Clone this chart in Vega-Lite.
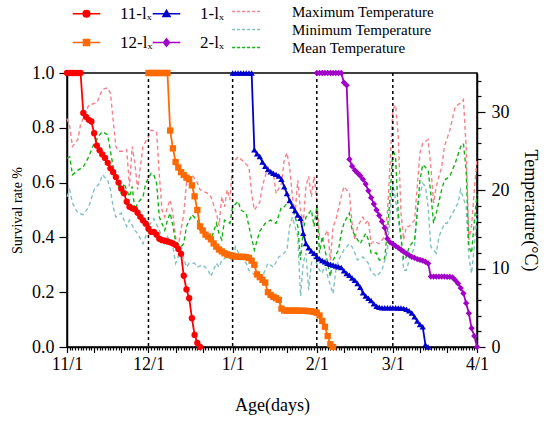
{
  "$schema": "https://vega.github.io/schema/vega-lite/v6.json",
  "autosize": {"type": "none"},
  "padding": {"left": 67, "top": 73, "right": 73, "bottom": 75},
  "width": 410,
  "height": 274,
  "config": {
    "font": "Liberation Serif",
    "view": {"stroke": "black", "strokeWidth": 1.5},
    "axis": {
      "grid": false,
      "domainColor": "black",
      "domainWidth": 1.5,
      "tickColor": "black",
      "tickWidth": 1.2,
      "labelColor": "black",
      "titleColor": "black",
      "labelFont": "Liberation Serif",
      "titleFont": "Liberation Serif",
      "labelFontSize": 18,
      "titleFontSize": 18,
      "titleFontWeight": "normal"
    },
    "legend": {
      "labelFont": "Liberation Serif",
      "labelFontSize": 16,
      "labelColor": "black",
      "padding": 0
    }
  },
  "datasets": {
    "months": [{"d": 30}, {"d": 61}, {"d": 92}, {"d": 120}],
    "surv": [
      {"g": "11-lₓ", "d": 0, "s": 1}, {"g": "11-lₓ", "d": 1, "s": 1}, {"g": "11-lₓ", "d": 2, "s": 1}, {"g": "11-lₓ", "d": 3, "s": 1},
      {"g": "11-lₓ", "d": 4, "s": 1}, {"g": "11-lₓ", "d": 5, "s": 1}, {"g": "11-lₓ", "d": 6, "s": 0.854}, {"g": "11-lₓ", "d": 7, "s": 0.84},
      {"g": "11-lₓ", "d": 8, "s": 0.829}, {"g": "11-lₓ", "d": 9, "s": 0.823}, {"g": "11-lₓ", "d": 10, "s": 0.78}, {"g": "11-lₓ", "d": 11, "s": 0.735},
      {"g": "11-lₓ", "d": 12, "s": 0.718}, {"g": "11-lₓ", "d": 13, "s": 0.703}, {"g": "11-lₓ", "d": 14, "s": 0.69}, {"g": "11-lₓ", "d": 15, "s": 0.672},
      {"g": "11-lₓ", "d": 16, "s": 0.652}, {"g": "11-lₓ", "d": 17, "s": 0.638}, {"g": "11-lₓ", "d": 18, "s": 0.62}, {"g": "11-lₓ", "d": 19, "s": 0.6},
      {"g": "11-lₓ", "d": 20, "s": 0.578}, {"g": "11-lₓ", "d": 21, "s": 0.561}, {"g": "11-lₓ", "d": 22, "s": 0.53}, {"g": "11-lₓ", "d": 23, "s": 0.512},
      {"g": "11-lₓ", "d": 24, "s": 0.506}, {"g": "11-lₓ", "d": 25, "s": 0.503}, {"g": "11-lₓ", "d": 26, "s": 0.49}, {"g": "11-lₓ", "d": 27, "s": 0.475},
      {"g": "11-lₓ", "d": 28, "s": 0.462}, {"g": "11-lₓ", "d": 29, "s": 0.45}, {"g": "11-lₓ", "d": 30, "s": 0.432}, {"g": "11-lₓ", "d": 31, "s": 0.42},
      {"g": "11-lₓ", "d": 32, "s": 0.42}, {"g": "11-lₓ", "d": 33, "s": 0.41}, {"g": "11-lₓ", "d": 34, "s": 0.395}, {"g": "11-lₓ", "d": 35, "s": 0.39},
      {"g": "11-lₓ", "d": 36, "s": 0.388}, {"g": "11-lₓ", "d": 37, "s": 0.385}, {"g": "11-lₓ", "d": 38, "s": 0.382}, {"g": "11-lₓ", "d": 39, "s": 0.378},
      {"g": "11-lₓ", "d": 40, "s": 0.372}, {"g": "11-lₓ", "d": 41, "s": 0.358}, {"g": "11-lₓ", "d": 42, "s": 0.34}, {"g": "11-lₓ", "d": 43, "s": 0.26},
      {"g": "11-lₓ", "d": 44, "s": 0.21}, {"g": "11-lₓ", "d": 45, "s": 0.178}, {"g": "11-lₓ", "d": 46, "s": 0.105}, {"g": "11-lₓ", "d": 47, "s": 0.044},
      {"g": "11-lₓ", "d": 48, "s": 0.015}, {"g": "11-lₓ", "d": 49, "s": 0},

      {"g": "12-lₓ", "d": 30, "s": 1}, {"g": "12-lₓ", "d": 31, "s": 1}, {"g": "12-lₓ", "d": 32, "s": 1}, {"g": "12-lₓ", "d": 33, "s": 1},
      {"g": "12-lₓ", "d": 34, "s": 1}, {"g": "12-lₓ", "d": 35, "s": 1}, {"g": "12-lₓ", "d": 36, "s": 1}, {"g": "12-lₓ", "d": 37, "s": 1},
      {"g": "12-lₓ", "d": 38, "s": 0.79}, {"g": "12-lₓ", "d": 39, "s": 0.725}, {"g": "12-lₓ", "d": 40, "s": 0.675}, {"g": "12-lₓ", "d": 41, "s": 0.655},
      {"g": "12-lₓ", "d": 42, "s": 0.638}, {"g": "12-lₓ", "d": 43, "s": 0.628}, {"g": "12-lₓ", "d": 44, "s": 0.618}, {"g": "12-lₓ", "d": 45, "s": 0.612},
      {"g": "12-lₓ", "d": 46, "s": 0.59}, {"g": "12-lₓ", "d": 47, "s": 0.55}, {"g": "12-lₓ", "d": 48, "s": 0.5}, {"g": "12-lₓ", "d": 49, "s": 0.44},
      {"g": "12-lₓ", "d": 50, "s": 0.425}, {"g": "12-lₓ", "d": 51, "s": 0.41}, {"g": "12-lₓ", "d": 52, "s": 0.403}, {"g": "12-lₓ", "d": 53, "s": 0.393},
      {"g": "12-lₓ", "d": 54, "s": 0.378}, {"g": "12-lₓ", "d": 55, "s": 0.366}, {"g": "12-lₓ", "d": 56, "s": 0.356}, {"g": "12-lₓ", "d": 57, "s": 0.349},
      {"g": "12-lₓ", "d": 58, "s": 0.342}, {"g": "12-lₓ", "d": 59, "s": 0.338}, {"g": "12-lₓ", "d": 60, "s": 0.335}, {"g": "12-lₓ", "d": 61, "s": 0.333},
      {"g": "12-lₓ", "d": 62, "s": 0.33}, {"g": "12-lₓ", "d": 63, "s": 0.329}, {"g": "12-lₓ", "d": 64, "s": 0.329}, {"g": "12-lₓ", "d": 65, "s": 0.329},
      {"g": "12-lₓ", "d": 66, "s": 0.328}, {"g": "12-lₓ", "d": 67, "s": 0.325}, {"g": "12-lₓ", "d": 68, "s": 0.315}, {"g": "12-lₓ", "d": 69, "s": 0.3},
      {"g": "12-lₓ", "d": 70, "s": 0.265}, {"g": "12-lₓ", "d": 71, "s": 0.255}, {"g": "12-lₓ", "d": 72, "s": 0.245}, {"g": "12-lₓ", "d": 73, "s": 0.235},
      {"g": "12-lₓ", "d": 74, "s": 0.2}, {"g": "12-lₓ", "d": 75, "s": 0.19}, {"g": "12-lₓ", "d": 76, "s": 0.183}, {"g": "12-lₓ", "d": 77, "s": 0.178},
      {"g": "12-lₓ", "d": 78, "s": 0.172}, {"g": "12-lₓ", "d": 79, "s": 0.14}, {"g": "12-lₓ", "d": 80, "s": 0.133}, {"g": "12-lₓ", "d": 81, "s": 0.133},
      {"g": "12-lₓ", "d": 82, "s": 0.133}, {"g": "12-lₓ", "d": 83, "s": 0.133}, {"g": "12-lₓ", "d": 84, "s": 0.133}, {"g": "12-lₓ", "d": 85, "s": 0.133},
      {"g": "12-lₓ", "d": 86, "s": 0.132}, {"g": "12-lₓ", "d": 87, "s": 0.132}, {"g": "12-lₓ", "d": 88, "s": 0.132}, {"g": "12-lₓ", "d": 89, "s": 0.131},
      {"g": "12-lₓ", "d": 90, "s": 0.13}, {"g": "12-lₓ", "d": 91, "s": 0.128}, {"g": "12-lₓ", "d": 92, "s": 0.125}, {"g": "12-lₓ", "d": 93, "s": 0.115},
      {"g": "12-lₓ", "d": 94, "s": 0.095}, {"g": "12-lₓ", "d": 95, "s": 0.074}, {"g": "12-lₓ", "d": 96, "s": 0.04}, {"g": "12-lₓ", "d": 97, "s": 0.01},
      {"g": "12-lₓ", "d": 98, "s": 0},

      {"g": "1-lₓ", "d": 61, "s": 1}, {"g": "1-lₓ", "d": 62, "s": 1}, {"g": "1-lₓ", "d": 63, "s": 1}, {"g": "1-lₓ", "d": 64, "s": 1},
      {"g": "1-lₓ", "d": 65, "s": 1}, {"g": "1-lₓ", "d": 66, "s": 1}, {"g": "1-lₓ", "d": 67, "s": 1}, {"g": "1-lₓ", "d": 68, "s": 1},
      {"g": "1-lₓ", "d": 69, "s": 0.72}, {"g": "1-lₓ", "d": 70, "s": 0.705}, {"g": "1-lₓ", "d": 71, "s": 0.695}, {"g": "1-lₓ", "d": 72, "s": 0.675},
      {"g": "1-lₓ", "d": 73, "s": 0.66}, {"g": "1-lₓ", "d": 74, "s": 0.648}, {"g": "1-lₓ", "d": 75, "s": 0.64}, {"g": "1-lₓ", "d": 76, "s": 0.634},
      {"g": "1-lₓ", "d": 77, "s": 0.63}, {"g": "1-lₓ", "d": 78, "s": 0.624}, {"g": "1-lₓ", "d": 79, "s": 0.612}, {"g": "1-lₓ", "d": 80, "s": 0.585},
      {"g": "1-lₓ", "d": 81, "s": 0.56}, {"g": "1-lₓ", "d": 82, "s": 0.535}, {"g": "1-lₓ", "d": 83, "s": 0.515}, {"g": "1-lₓ", "d": 84, "s": 0.498},
      {"g": "1-lₓ", "d": 85, "s": 0.482}, {"g": "1-lₓ", "d": 86, "s": 0.47}, {"g": "1-lₓ", "d": 87, "s": 0.415}, {"g": "1-lₓ", "d": 88, "s": 0.378},
      {"g": "1-lₓ", "d": 89, "s": 0.362}, {"g": "1-lₓ", "d": 90, "s": 0.35}, {"g": "1-lₓ", "d": 91, "s": 0.342}, {"g": "1-lₓ", "d": 92, "s": 0.33},
      {"g": "1-lₓ", "d": 93, "s": 0.322}, {"g": "1-lₓ", "d": 94, "s": 0.316}, {"g": "1-lₓ", "d": 95, "s": 0.311}, {"g": "1-lₓ", "d": 96, "s": 0.306},
      {"g": "1-lₓ", "d": 97, "s": 0.302}, {"g": "1-lₓ", "d": 98, "s": 0.299}, {"g": "1-lₓ", "d": 99, "s": 0.296}, {"g": "1-lₓ", "d": 100, "s": 0.293},
      {"g": "1-lₓ", "d": 101, "s": 0.29}, {"g": "1-lₓ", "d": 102, "s": 0.278}, {"g": "1-lₓ", "d": 103, "s": 0.268}, {"g": "1-lₓ", "d": 104, "s": 0.262},
      {"g": "1-lₓ", "d": 105, "s": 0.252}, {"g": "1-lₓ", "d": 106, "s": 0.244}, {"g": "1-lₓ", "d": 107, "s": 0.232}, {"g": "1-lₓ", "d": 108, "s": 0.218},
      {"g": "1-lₓ", "d": 109, "s": 0.198}, {"g": "1-lₓ", "d": 110, "s": 0.186}, {"g": "1-lₓ", "d": 111, "s": 0.178}, {"g": "1-lₓ", "d": 112, "s": 0.17},
      {"g": "1-lₓ", "d": 113, "s": 0.158}, {"g": "1-lₓ", "d": 114, "s": 0.149}, {"g": "1-lₓ", "d": 115, "s": 0.145}, {"g": "1-lₓ", "d": 116, "s": 0.143},
      {"g": "1-lₓ", "d": 117, "s": 0.143}, {"g": "1-lₓ", "d": 118, "s": 0.143}, {"g": "1-lₓ", "d": 119, "s": 0.143}, {"g": "1-lₓ", "d": 120, "s": 0.143},
      {"g": "1-lₓ", "d": 121, "s": 0.143}, {"g": "1-lₓ", "d": 122, "s": 0.142}, {"g": "1-lₓ", "d": 123, "s": 0.142}, {"g": "1-lₓ", "d": 124, "s": 0.141},
      {"g": "1-lₓ", "d": 125, "s": 0.138}, {"g": "1-lₓ", "d": 126, "s": 0.132}, {"g": "1-lₓ", "d": 127, "s": 0.124}, {"g": "1-lₓ", "d": 128, "s": 0.11},
      {"g": "1-lₓ", "d": 129, "s": 0.095}, {"g": "1-lₓ", "d": 130, "s": 0.082}, {"g": "1-lₓ", "d": 131, "s": 0.074}, {"g": "1-lₓ", "d": 132, "s": 0.008},
      {"g": "1-lₓ", "d": 133, "s": 0},

      {"g": "2-lₓ", "d": 92, "s": 1}, {"g": "2-lₓ", "d": 93, "s": 1}, {"g": "2-lₓ", "d": 94, "s": 1}, {"g": "2-lₓ", "d": 95, "s": 1},
      {"g": "2-lₓ", "d": 96, "s": 1}, {"g": "2-lₓ", "d": 97, "s": 1}, {"g": "2-lₓ", "d": 98, "s": 1}, {"g": "2-lₓ", "d": 99, "s": 1},
      {"g": "2-lₓ", "d": 100, "s": 1}, {"g": "2-lₓ", "d": 101, "s": 1}, {"g": "2-lₓ", "d": 102, "s": 0.965}, {"g": "2-lₓ", "d": 103, "s": 0.955},
      {"g": "2-lₓ", "d": 104, "s": 0.685}, {"g": "2-lₓ", "d": 105, "s": 0.66}, {"g": "2-lₓ", "d": 106, "s": 0.645}, {"g": "2-lₓ", "d": 107, "s": 0.635},
      {"g": "2-lₓ", "d": 108, "s": 0.625}, {"g": "2-lₓ", "d": 109, "s": 0.612}, {"g": "2-lₓ", "d": 110, "s": 0.595}, {"g": "2-lₓ", "d": 111, "s": 0.57},
      {"g": "2-lₓ", "d": 112, "s": 0.545}, {"g": "2-lₓ", "d": 113, "s": 0.522}, {"g": "2-lₓ", "d": 114, "s": 0.5}, {"g": "2-lₓ", "d": 115, "s": 0.48},
      {"g": "2-lₓ", "d": 116, "s": 0.458}, {"g": "2-lₓ", "d": 117, "s": 0.435}, {"g": "2-lₓ", "d": 118, "s": 0.395}, {"g": "2-lₓ", "d": 119, "s": 0.382},
      {"g": "2-lₓ", "d": 120, "s": 0.376}, {"g": "2-lₓ", "d": 121, "s": 0.369}, {"g": "2-lₓ", "d": 122, "s": 0.362}, {"g": "2-lₓ", "d": 123, "s": 0.355},
      {"g": "2-lₓ", "d": 124, "s": 0.348}, {"g": "2-lₓ", "d": 125, "s": 0.341}, {"g": "2-lₓ", "d": 126, "s": 0.335}, {"g": "2-lₓ", "d": 127, "s": 0.329},
      {"g": "2-lₓ", "d": 128, "s": 0.325}, {"g": "2-lₓ", "d": 129, "s": 0.321}, {"g": "2-lₓ", "d": 130, "s": 0.318}, {"g": "2-lₓ", "d": 131, "s": 0.315},
      {"g": "2-lₓ", "d": 132, "s": 0.311}, {"g": "2-lₓ", "d": 133, "s": 0.305}, {"g": "2-lₓ", "d": 134, "s": 0.257}, {"g": "2-lₓ", "d": 135, "s": 0.257},
      {"g": "2-lₓ", "d": 136, "s": 0.257}, {"g": "2-lₓ", "d": 137, "s": 0.257}, {"g": "2-lₓ", "d": 138, "s": 0.257}, {"g": "2-lₓ", "d": 139, "s": 0.257},
      {"g": "2-lₓ", "d": 140, "s": 0.256}, {"g": "2-lₓ", "d": 141, "s": 0.256}, {"g": "2-lₓ", "d": 142, "s": 0.254}, {"g": "2-lₓ", "d": 143, "s": 0.244},
      {"g": "2-lₓ", "d": 144, "s": 0.232}, {"g": "2-lₓ", "d": 145, "s": 0.215}, {"g": "2-lₓ", "d": 146, "s": 0.196}, {"g": "2-lₓ", "d": 147, "s": 0.16},
      {"g": "2-lₓ", "d": 148, "s": 0.123}, {"g": "2-lₓ", "d": 149, "s": 0.068}, {"g": "2-lₓ", "d": 150, "s": 0.04}, {"g": "2-lₓ", "d": 151, "s": 0}
    ],
    "temp": [
      {"k": "Maximum Temperature", "d": 0, "t": 29.2}, {"k": "Maximum Temperature", "d": 1, "t": 28.2}, {"k": "Maximum Temperature", "d": 2, "t": 25.6},
      {"k": "Maximum Temperature", "d": 4, "t": 26.5}, {"k": "Maximum Temperature", "d": 5, "t": 28.4}, {"k": "Maximum Temperature", "d": 8, "t": 30.9},
      {"k": "Maximum Temperature", "d": 11, "t": 31.2}, {"k": "Maximum Temperature", "d": 13, "t": 32.9}, {"k": "Maximum Temperature", "d": 15, "t": 33.1},
      {"k": "Maximum Temperature", "d": 16, "t": 32.4}, {"k": "Maximum Temperature", "d": 17, "t": 29}, {"k": "Maximum Temperature", "d": 18, "t": 25.6},
      {"k": "Maximum Temperature", "d": 19, "t": 25}, {"k": "Maximum Temperature", "d": 21, "t": 25}, {"k": "Maximum Temperature", "d": 22, "t": 25.2},
      {"k": "Maximum Temperature", "d": 23, "t": 20.5}, {"k": "Maximum Temperature", "d": 24, "t": 25.6}, {"k": "Maximum Temperature", "d": 25, "t": 23.5},
      {"k": "Maximum Temperature", "d": 26, "t": 20.1}, {"k": "Maximum Temperature", "d": 27, "t": 23}, {"k": "Maximum Temperature", "d": 28, "t": 25.6},
      {"k": "Maximum Temperature", "d": 30, "t": 26.9}, {"k": "Maximum Temperature", "d": 31, "t": 27.7}, {"k": "Maximum Temperature", "d": 33, "t": 27.5},
      {"k": "Maximum Temperature", "d": 34, "t": 22}, {"k": "Maximum Temperature", "d": 35, "t": 17.5}, {"k": "Maximum Temperature", "d": 36, "t": 16.6},
      {"k": "Maximum Temperature", "d": 37, "t": 17.9}, {"k": "Maximum Temperature", "d": 38, "t": 18.8}, {"k": "Maximum Temperature", "d": 39, "t": 17},
      {"k": "Maximum Temperature", "d": 40, "t": 14}, {"k": "Maximum Temperature", "d": 41, "t": 13}, {"k": "Maximum Temperature", "d": 43, "t": 17},
      {"k": "Maximum Temperature", "d": 44, "t": 21}, {"k": "Maximum Temperature", "d": 46, "t": 22}, {"k": "Maximum Temperature", "d": 48, "t": 21},
      {"k": "Maximum Temperature", "d": 49, "t": 20.1}, {"k": "Maximum Temperature", "d": 52, "t": 19.6}, {"k": "Maximum Temperature", "d": 53, "t": 19.2},
      {"k": "Maximum Temperature", "d": 55, "t": 17.1}, {"k": "Maximum Temperature", "d": 56, "t": 15.5}, {"k": "Maximum Temperature", "d": 57, "t": 19.2},
      {"k": "Maximum Temperature", "d": 58, "t": 17.9}, {"k": "Maximum Temperature", "d": 59, "t": 20.1}, {"k": "Maximum Temperature", "d": 60, "t": 18.8},
      {"k": "Maximum Temperature", "d": 61, "t": 23.5}, {"k": "Maximum Temperature", "d": 63, "t": 24.3}, {"k": "Maximum Temperature", "d": 65, "t": 23.7},
      {"k": "Maximum Temperature", "d": 67, "t": 23}, {"k": "Maximum Temperature", "d": 68, "t": 19.6}, {"k": "Maximum Temperature", "d": 69, "t": 17.5},
      {"k": "Maximum Temperature", "d": 71, "t": 18.5}, {"k": "Maximum Temperature", "d": 72, "t": 20.6}, {"k": "Maximum Temperature", "d": 74, "t": 23},
      {"k": "Maximum Temperature", "d": 76, "t": 22.2}, {"k": "Maximum Temperature", "d": 77, "t": 19.6}, {"k": "Maximum Temperature", "d": 79, "t": 20.9},
      {"k": "Maximum Temperature", "d": 80, "t": 23.9}, {"k": "Maximum Temperature", "d": 81, "t": 24.8}, {"k": "Maximum Temperature", "d": 82, "t": 23},
      {"k": "Maximum Temperature", "d": 83, "t": 19.2}, {"k": "Maximum Temperature", "d": 84, "t": 17.1}, {"k": "Maximum Temperature", "d": 85, "t": 21.3},
      {"k": "Maximum Temperature", "d": 86, "t": 17.5}, {"k": "Maximum Temperature", "d": 87, "t": 15.8}, {"k": "Maximum Temperature", "d": 88, "t": 20.5},
      {"k": "Maximum Temperature", "d": 89, "t": 21.8}, {"k": "Maximum Temperature", "d": 90, "t": 19.2}, {"k": "Maximum Temperature", "d": 91, "t": 21.8},
      {"k": "Maximum Temperature", "d": 92, "t": 18.8}, {"k": "Maximum Temperature", "d": 93, "t": 14.1}, {"k": "Maximum Temperature", "d": 94, "t": 13.7},
      {"k": "Maximum Temperature", "d": 96, "t": 14.9}, {"k": "Maximum Temperature", "d": 97, "t": 11.1}, {"k": "Maximum Temperature", "d": 98, "t": 15.4},
      {"k": "Maximum Temperature", "d": 99, "t": 16.2}, {"k": "Maximum Temperature", "d": 101, "t": 19.2}, {"k": "Maximum Temperature", "d": 102, "t": 20.5},
      {"k": "Maximum Temperature", "d": 104, "t": 19.6}, {"k": "Maximum Temperature", "d": 105, "t": 15.8}, {"k": "Maximum Temperature", "d": 106, "t": 13.7},
      {"k": "Maximum Temperature", "d": 107, "t": 15.4}, {"k": "Maximum Temperature", "d": 109, "t": 16.6}, {"k": "Maximum Temperature", "d": 110, "t": 15.8},
      {"k": "Maximum Temperature", "d": 111, "t": 16.2}, {"k": "Maximum Temperature", "d": 112, "t": 13.2}, {"k": "Maximum Temperature", "d": 113, "t": 13.5},
      {"k": "Maximum Temperature", "d": 115, "t": 13.2}, {"k": "Maximum Temperature", "d": 117, "t": 14.1}, {"k": "Maximum Temperature", "d": 118, "t": 17.1},
      {"k": "Maximum Temperature", "d": 119, "t": 23.5}, {"k": "Maximum Temperature", "d": 120, "t": 30.3}, {"k": "Maximum Temperature", "d": 121, "t": 30.9},
      {"k": "Maximum Temperature", "d": 122, "t": 27}, {"k": "Maximum Temperature", "d": 123, "t": 17.1}, {"k": "Maximum Temperature", "d": 124, "t": 13.7},
      {"k": "Maximum Temperature", "d": 125, "t": 15.4}, {"k": "Maximum Temperature", "d": 126, "t": 15.4}, {"k": "Maximum Temperature", "d": 128, "t": 16.2},
      {"k": "Maximum Temperature", "d": 129, "t": 20.5}, {"k": "Maximum Temperature", "d": 130, "t": 24.8}, {"k": "Maximum Temperature", "d": 131, "t": 26},
      {"k": "Maximum Temperature", "d": 133, "t": 26.5}, {"k": "Maximum Temperature", "d": 134, "t": 23}, {"k": "Maximum Temperature", "d": 135, "t": 18.4},
      {"k": "Maximum Temperature", "d": 136, "t": 20.5}, {"k": "Maximum Temperature", "d": 138, "t": 23}, {"k": "Maximum Temperature", "d": 139, "t": 25.6},
      {"k": "Maximum Temperature", "d": 141, "t": 27.7}, {"k": "Maximum Temperature", "d": 143, "t": 30.7}, {"k": "Maximum Temperature", "d": 145, "t": 31.2},
      {"k": "Maximum Temperature", "d": 146, "t": 31.6}, {"k": "Maximum Temperature", "d": 147, "t": 25.6}, {"k": "Maximum Temperature", "d": 148, "t": 13.7},
      {"k": "Maximum Temperature", "d": 149, "t": 15.4}, {"k": "Maximum Temperature", "d": 150, "t": 20}, {"k": "Maximum Temperature", "d": 151, "t": 24},

      {"k": "Minimum Temperature", "d": 0, "t": 19.2}, {"k": "Minimum Temperature", "d": 1, "t": 20.1}, {"k": "Minimum Temperature", "d": 2, "t": 18.4},
      {"k": "Minimum Temperature", "d": 4, "t": 17.1}, {"k": "Minimum Temperature", "d": 6, "t": 16.9}, {"k": "Minimum Temperature", "d": 8, "t": 17.9},
      {"k": "Minimum Temperature", "d": 10, "t": 20.1}, {"k": "Minimum Temperature", "d": 12, "t": 20.9}, {"k": "Minimum Temperature", "d": 13, "t": 22},
      {"k": "Minimum Temperature", "d": 15, "t": 21.3}, {"k": "Minimum Temperature", "d": 16, "t": 20.1}, {"k": "Minimum Temperature", "d": 17, "t": 17.9},
      {"k": "Minimum Temperature", "d": 18, "t": 16.6}, {"k": "Minimum Temperature", "d": 20, "t": 17.1}, {"k": "Minimum Temperature", "d": 21, "t": 16.2},
      {"k": "Minimum Temperature", "d": 22, "t": 15.4}, {"k": "Minimum Temperature", "d": 23, "t": 16.2}, {"k": "Minimum Temperature", "d": 25, "t": 14.9},
      {"k": "Minimum Temperature", "d": 26, "t": 14.5}, {"k": "Minimum Temperature", "d": 28, "t": 13.2}, {"k": "Minimum Temperature", "d": 29, "t": 14.1},
      {"k": "Minimum Temperature", "d": 30, "t": 15.4}, {"k": "Minimum Temperature", "d": 32, "t": 16.4}, {"k": "Minimum Temperature", "d": 34, "t": 14.9},
      {"k": "Minimum Temperature", "d": 36, "t": 13.2}, {"k": "Minimum Temperature", "d": 37, "t": 14.1}, {"k": "Minimum Temperature", "d": 39, "t": 12.8},
      {"k": "Minimum Temperature", "d": 40, "t": 10.7}, {"k": "Minimum Temperature", "d": 42, "t": 12.4}, {"k": "Minimum Temperature", "d": 44, "t": 10.2},
      {"k": "Minimum Temperature", "d": 45, "t": 10.7}, {"k": "Minimum Temperature", "d": 47, "t": 10.7}, {"k": "Minimum Temperature", "d": 48, "t": 10.2},
      {"k": "Minimum Temperature", "d": 50, "t": 10.5}, {"k": "Minimum Temperature", "d": 52, "t": 9.8}, {"k": "Minimum Temperature", "d": 53, "t": 9},
      {"k": "Minimum Temperature", "d": 55, "t": 10.7}, {"k": "Minimum Temperature", "d": 56, "t": 10.2}, {"k": "Minimum Temperature", "d": 57, "t": 11.1},
      {"k": "Minimum Temperature", "d": 59, "t": 11.5}, {"k": "Minimum Temperature", "d": 61, "t": 11.1}, {"k": "Minimum Temperature", "d": 62, "t": 12.8},
      {"k": "Minimum Temperature", "d": 64, "t": 11.5}, {"k": "Minimum Temperature", "d": 66, "t": 10.7}, {"k": "Minimum Temperature", "d": 67, "t": 9.8},
      {"k": "Minimum Temperature", "d": 70, "t": 9}, {"k": "Minimum Temperature", "d": 72, "t": 9}, {"k": "Minimum Temperature", "d": 74, "t": 10.7},
      {"k": "Minimum Temperature", "d": 76, "t": 10.2}, {"k": "Minimum Temperature", "d": 78, "t": 11.5}, {"k": "Minimum Temperature", "d": 80, "t": 12},
      {"k": "Minimum Temperature", "d": 81, "t": 12.4}, {"k": "Minimum Temperature", "d": 82, "t": 15.4}, {"k": "Minimum Temperature", "d": 83, "t": 16.6},
      {"k": "Minimum Temperature", "d": 85, "t": 14.1}, {"k": "Minimum Temperature", "d": 86, "t": 6.5}, {"k": "Minimum Temperature", "d": 87, "t": 10.7},
      {"k": "Minimum Temperature", "d": 88, "t": 12}, {"k": "Minimum Temperature", "d": 89, "t": 7.3}, {"k": "Minimum Temperature", "d": 90, "t": 10.7},
      {"k": "Minimum Temperature", "d": 91, "t": 11.5}, {"k": "Minimum Temperature", "d": 93, "t": 9.8}, {"k": "Minimum Temperature", "d": 94, "t": 9.4},
      {"k": "Minimum Temperature", "d": 95, "t": 10.7}, {"k": "Minimum Temperature", "d": 96, "t": 9}, {"k": "Minimum Temperature", "d": 98, "t": 6.8},
      {"k": "Minimum Temperature", "d": 99, "t": 9.8}, {"k": "Minimum Temperature", "d": 100, "t": 11.1}, {"k": "Minimum Temperature", "d": 102, "t": 12.4},
      {"k": "Minimum Temperature", "d": 104, "t": 13.2}, {"k": "Minimum Temperature", "d": 105, "t": 12.8}, {"k": "Minimum Temperature", "d": 106, "t": 12},
      {"k": "Minimum Temperature", "d": 107, "t": 11.1}, {"k": "Minimum Temperature", "d": 109, "t": 11.5}, {"k": "Minimum Temperature", "d": 111, "t": 10.7},
      {"k": "Minimum Temperature", "d": 112, "t": 9.6}, {"k": "Minimum Temperature", "d": 114, "t": 9}, {"k": "Minimum Temperature", "d": 116, "t": 9.8},
      {"k": "Minimum Temperature", "d": 118, "t": 12.3}, {"k": "Minimum Temperature", "d": 119, "t": 17.1}, {"k": "Minimum Temperature", "d": 120, "t": 20.9},
      {"k": "Minimum Temperature", "d": 121, "t": 18.8}, {"k": "Minimum Temperature", "d": 123, "t": 13.7}, {"k": "Minimum Temperature", "d": 124, "t": 9.8},
      {"k": "Minimum Temperature", "d": 125, "t": 9.8}, {"k": "Minimum Temperature", "d": 126, "t": 11.1}, {"k": "Minimum Temperature", "d": 128, "t": 12.8},
      {"k": "Minimum Temperature", "d": 129, "t": 17.9}, {"k": "Minimum Temperature", "d": 131, "t": 20.9}, {"k": "Minimum Temperature", "d": 132, "t": 20.5},
      {"k": "Minimum Temperature", "d": 133, "t": 17.9}, {"k": "Minimum Temperature", "d": 134, "t": 12.8}, {"k": "Minimum Temperature", "d": 136, "t": 12},
      {"k": "Minimum Temperature", "d": 137, "t": 14.1}, {"k": "Minimum Temperature", "d": 139, "t": 15.8}, {"k": "Minimum Temperature", "d": 140, "t": 15.8},
      {"k": "Minimum Temperature", "d": 142, "t": 17.1}, {"k": "Minimum Temperature", "d": 144, "t": 18.4}, {"k": "Minimum Temperature", "d": 145, "t": 20.1},
      {"k": "Minimum Temperature", "d": 147, "t": 17.9}, {"k": "Minimum Temperature", "d": 148, "t": 11.5}, {"k": "Minimum Temperature", "d": 149, "t": 9.4},
      {"k": "Minimum Temperature", "d": 150, "t": 12.8}, {"k": "Minimum Temperature", "d": 151, "t": 17},

      {"k": "Mean Temperature", "d": 0, "t": 24.1}, {"k": "Mean Temperature", "d": 1, "t": 24.3}, {"k": "Mean Temperature", "d": 2, "t": 22},
      {"k": "Mean Temperature", "d": 4, "t": 22.6}, {"k": "Mean Temperature", "d": 6, "t": 23}, {"k": "Mean Temperature", "d": 8, "t": 24.3},
      {"k": "Mean Temperature", "d": 10, "t": 26}, {"k": "Mean Temperature", "d": 12, "t": 27.1}, {"k": "Mean Temperature", "d": 13, "t": 27.5},
      {"k": "Mean Temperature", "d": 15, "t": 27.1}, {"k": "Mean Temperature", "d": 17, "t": 23}, {"k": "Mean Temperature", "d": 18, "t": 21.8},
      {"k": "Mean Temperature", "d": 19, "t": 20.5}, {"k": "Mean Temperature", "d": 20, "t": 19.6}, {"k": "Mean Temperature", "d": 21, "t": 20.9},
      {"k": "Mean Temperature", "d": 23, "t": 19.2}, {"k": "Mean Temperature", "d": 24, "t": 20.5}, {"k": "Mean Temperature", "d": 25, "t": 17.5},
      {"k": "Mean Temperature", "d": 26, "t": 18.4}, {"k": "Mean Temperature", "d": 28, "t": 19.2}, {"k": "Mean Temperature", "d": 29, "t": 20.9},
      {"k": "Mean Temperature", "d": 31, "t": 22.2}, {"k": "Mean Temperature", "d": 32, "t": 22}, {"k": "Mean Temperature", "d": 33, "t": 20.9},
      {"k": "Mean Temperature", "d": 34, "t": 16.6}, {"k": "Mean Temperature", "d": 36, "t": 14.9}, {"k": "Mean Temperature", "d": 37, "t": 16.2},
      {"k": "Mean Temperature", "d": 38, "t": 17.1}, {"k": "Mean Temperature", "d": 39, "t": 15.5}, {"k": "Mean Temperature", "d": 40, "t": 13.5},
      {"k": "Mean Temperature", "d": 42, "t": 12.8}, {"k": "Mean Temperature", "d": 43, "t": 13.2}, {"k": "Mean Temperature", "d": 44, "t": 15.4},
      {"k": "Mean Temperature", "d": 46, "t": 16.9}, {"k": "Mean Temperature", "d": 48, "t": 16.2}, {"k": "Mean Temperature", "d": 49, "t": 14.9},
      {"k": "Mean Temperature", "d": 51, "t": 14.5}, {"k": "Mean Temperature", "d": 53, "t": 13.7}, {"k": "Mean Temperature", "d": 55, "t": 15.8},
      {"k": "Mean Temperature", "d": 56, "t": 14.5}, {"k": "Mean Temperature", "d": 57, "t": 13.7}, {"k": "Mean Temperature", "d": 58, "t": 16.2},
      {"k": "Mean Temperature", "d": 60, "t": 15.8}, {"k": "Mean Temperature", "d": 61, "t": 17.9}, {"k": "Mean Temperature", "d": 63, "t": 18.6},
      {"k": "Mean Temperature", "d": 64, "t": 17.5}, {"k": "Mean Temperature", "d": 66, "t": 17.1}, {"k": "Mean Temperature", "d": 67, "t": 15.4},
      {"k": "Mean Temperature", "d": 69, "t": 12.4}, {"k": "Mean Temperature", "d": 71, "t": 14.8}, {"k": "Mean Temperature", "d": 73, "t": 15.8},
      {"k": "Mean Temperature", "d": 75, "t": 16.2}, {"k": "Mean Temperature", "d": 77, "t": 15.8}, {"k": "Mean Temperature", "d": 79, "t": 17.9},
      {"k": "Mean Temperature", "d": 80, "t": 17.9}, {"k": "Mean Temperature", "d": 82, "t": 18.8}, {"k": "Mean Temperature", "d": 83, "t": 17.9},
      {"k": "Mean Temperature", "d": 85, "t": 15.4}, {"k": "Mean Temperature", "d": 86, "t": 11.1}, {"k": "Mean Temperature", "d": 87, "t": 14.9},
      {"k": "Mean Temperature", "d": 88, "t": 16.6}, {"k": "Mean Temperature", "d": 90, "t": 17.5}, {"k": "Mean Temperature", "d": 91, "t": 15.4},
      {"k": "Mean Temperature", "d": 92, "t": 17.9}, {"k": "Mean Temperature", "d": 93, "t": 12}, {"k": "Mean Temperature", "d": 94, "t": 14.1},
      {"k": "Mean Temperature", "d": 95, "t": 12.4}, {"k": "Mean Temperature", "d": 96, "t": 10.7}, {"k": "Mean Temperature", "d": 97, "t": 9},
      {"k": "Mean Temperature", "d": 98, "t": 11.1}, {"k": "Mean Temperature", "d": 100, "t": 12.4}, {"k": "Mean Temperature", "d": 101, "t": 14.5},
      {"k": "Mean Temperature", "d": 102, "t": 15.8}, {"k": "Mean Temperature", "d": 104, "t": 17.1}, {"k": "Mean Temperature", "d": 105, "t": 14.9},
      {"k": "Mean Temperature", "d": 107, "t": 13.7}, {"k": "Mean Temperature", "d": 108, "t": 13.2}, {"k": "Mean Temperature", "d": 110, "t": 14.5},
      {"k": "Mean Temperature", "d": 111, "t": 13.7}, {"k": "Mean Temperature", "d": 112, "t": 12}, {"k": "Mean Temperature", "d": 114, "t": 12},
      {"k": "Mean Temperature", "d": 115, "t": 11.1}, {"k": "Mean Temperature", "d": 117, "t": 11.3}, {"k": "Mean Temperature", "d": 118, "t": 14.9},
      {"k": "Mean Temperature", "d": 119, "t": 19.2}, {"k": "Mean Temperature", "d": 120, "t": 25.2}, {"k": "Mean Temperature", "d": 121, "t": 24.3},
      {"k": "Mean Temperature", "d": 122, "t": 17.1}, {"k": "Mean Temperature", "d": 124, "t": 11.1}, {"k": "Mean Temperature", "d": 125, "t": 11.5},
      {"k": "Mean Temperature", "d": 126, "t": 12.8}, {"k": "Mean Temperature", "d": 128, "t": 13.7}, {"k": "Mean Temperature", "d": 129, "t": 17.1},
      {"k": "Mean Temperature", "d": 130, "t": 21.3}, {"k": "Mean Temperature", "d": 131, "t": 23.3}, {"k": "Mean Temperature", "d": 133, "t": 22.6},
      {"k": "Mean Temperature", "d": 134, "t": 19.6}, {"k": "Mean Temperature", "d": 135, "t": 15.8}, {"k": "Mean Temperature", "d": 136, "t": 17.1},
      {"k": "Mean Temperature", "d": 138, "t": 20.1}, {"k": "Mean Temperature", "d": 139, "t": 21.3}, {"k": "Mean Temperature", "d": 141, "t": 21.8},
      {"k": "Mean Temperature", "d": 143, "t": 23.5}, {"k": "Mean Temperature", "d": 145, "t": 25.6}, {"k": "Mean Temperature", "d": 146, "t": 26},
      {"k": "Mean Temperature", "d": 147, "t": 22.6}, {"k": "Mean Temperature", "d": 148, "t": 12.8}, {"k": "Mean Temperature", "d": 149, "t": 12},
      {"k": "Mean Temperature", "d": 150, "t": 16}, {"k": "Mean Temperature", "d": 151, "t": 19.5}
    ]
  },
  "encoding": {
    "x": {
      "field": "d",
      "type": "quantitative",
      "scale": {"domain": [0, 151], "nice": false, "zero": false},
      "axis": {
        "title": "Age(days)",
        "tickCount": 151,
        "labelOverlap": false,
        "labelFlush": false,
        "labelBound": false,
        "labelPadding": 3,
        "titlePadding": 23,
        "labelExpr": "datum.value == 0 ? '11/1' : datum.value == 30 ? '12/1' : datum.value == 61 ? '1/1' : datum.value == 92 ? '2/1' : datum.value == 120 ? '3/1' : datum.value == 151 ? '4/1' : ''",
        "tickSize": {"condition": {"test": "indexof([0,10,20,30,40,50,61,71,81,92,102,112,120,130,140,151], datum.value) >= 0", "value": 5.5}, "value": 3}
      }
    }
  },
  "layer": [
    {
      "data": {"name": "temp"},
      "mark": {"type": "line", "strokeDash": [4, 3], "strokeWidth": 1.4},
      "encoding": {
        "y": {
          "field": "t",
          "type": "quantitative",
          "scale": {"domain": [0, 35], "nice": false},
          "axis": {
            "orient": "right",
            "title": "Temperature(°C)",
            "values": [0, 2, 4, 6, 8, 10, 12, 14, 16, 18, 20, 22, 24, 26, 28, 30, 32, 34],
            "labelExpr": "datum.value % 10 == 0 ? datum.label : ''",
            "labelOverlap": false,
            "labelPadding": 6,
            "titlePadding": 11,
            "tickSize": {"condition": {"test": "datum.value % 10 == 0", "value": 8}, "value": 4}
          }
        },
        "color": {
          "field": "k",
          "type": "nominal",
          "scale": {
            "domain": ["Maximum Temperature", "Minimum Temperature", "Mean Temperature"],
            "range": ["#F7808A", "#80C2C2", "#12B312"]
          },
          "legend": {
            "title": null,
            "orient": "none",
            "legendX": 172,
            "legendY": -69,
            "rowPadding": 2,
            "labelOffset": 38,
            "labelFontSize": 15,
            "symbolSize": 36,
            "symbolDash": [3, 2],
            "symbolStrokeWidth": 1.5,
            "encode": {
              "symbols": {
                "update": {
                  "shape": {"value": "M-4.8,0H4.8"},
                  "fill": {"value": "transparent"}
                }
              }
            }
          }
        }
      }
    },
    {
      "data": {"name": "months"},
      "mark": {"type": "rule", "color": "black", "strokeDash": [3, 3], "strokeWidth": 1.5},
      "encoding": {}
    },
    {
      "data": {"name": "surv"},
      "encoding": {
        "y": {
          "field": "s",
          "type": "quantitative",
          "scale": {"domain": [0, 1], "nice": false},
          "axis": {
            "orient": "left",
            "title": "Survival rate %",
            "titleFontSize": 14,
            "values": [0, 0.2, 0.4, 0.6, 0.8, 1],
            "format": ".1f",
            "tickSize": 8,
            "labelPadding": 5,
            "titlePadding": 7
          }
        },
        "color": {
          "field": "g",
          "type": "nominal",
          "scale": {
            "domain": ["11-lₓ", "12-lₓ", "1-lₓ", "2-lₓ"],
            "range": ["#FF0000", "#FF6A00", "#0000CD", "#A100C8"]
          },
          "legend": {
            "title": null,
            "orient": "none",
            "legendX": 11,
            "legendY": -68,
            "columns": 2,
            "columnPadding": -4,
            "rowPadding": 11,
            "labelOffset": 25,
            "labelFontSize": 17,
            "symbolSize": 36,
            "symbolStrokeWidth": 1.6,
            "encode": {
              "symbols": {
                "update": {
                  "shape": {"signal": "datum.value == '11-lₓ' ? 'M-4.6,0H4.6M1.1,0A1.1,1.1 0 1,1 -1.1,0A1.1,1.1 0 1,1 1.1,0Z' : datum.value == '12-lₓ' ? 'M-4.6,0H4.6M-1,-1H1V1H-1Z' : datum.value == '1-lₓ' ? 'M-4.6,0H4.6M0,-1.1L1.15,0.9H-1.15Z' : 'M-4.6,0H4.6M0,-1.2L0.95,0L0,1.2L-0.95,0Z'"},
                  "fill": {"signal": "datum.value == '11-lₓ' ? '#FF0000' : datum.value == '12-lₓ' ? '#FF6A00' : datum.value == '1-lₓ' ? '#0000CD' : '#A100C8'"},
                  "stroke": {"signal": "datum.value == '11-lₓ' ? '#FF0000' : datum.value == '12-lₓ' ? '#FF6A00' : datum.value == '1-lₓ' ? '#0000CD' : '#A100C8'"},
                  "opacity": {"value": 1}
                }
              }
            }
          }
        }
      },
      "layer": [
        {"mark": {"type": "line", "strokeWidth": 1.8}},
        {
          "mark": {"type": "point", "filled": true, "opacity": 1, "size": 40},
          "encoding": {
            "shape": {
              "field": "g",
              "type": "nominal",
              "scale": {
                "domain": ["11-lₓ", "12-lₓ", "1-lₓ", "2-lₓ"],
                "range": ["circle", "square", "triangle-up", "diamond"]
              },
              "legend": null
            }
          }
        }
      ]
    }
  ],
  "resolve": {"scale": {"y": "independent", "color": "independent"}}
}
